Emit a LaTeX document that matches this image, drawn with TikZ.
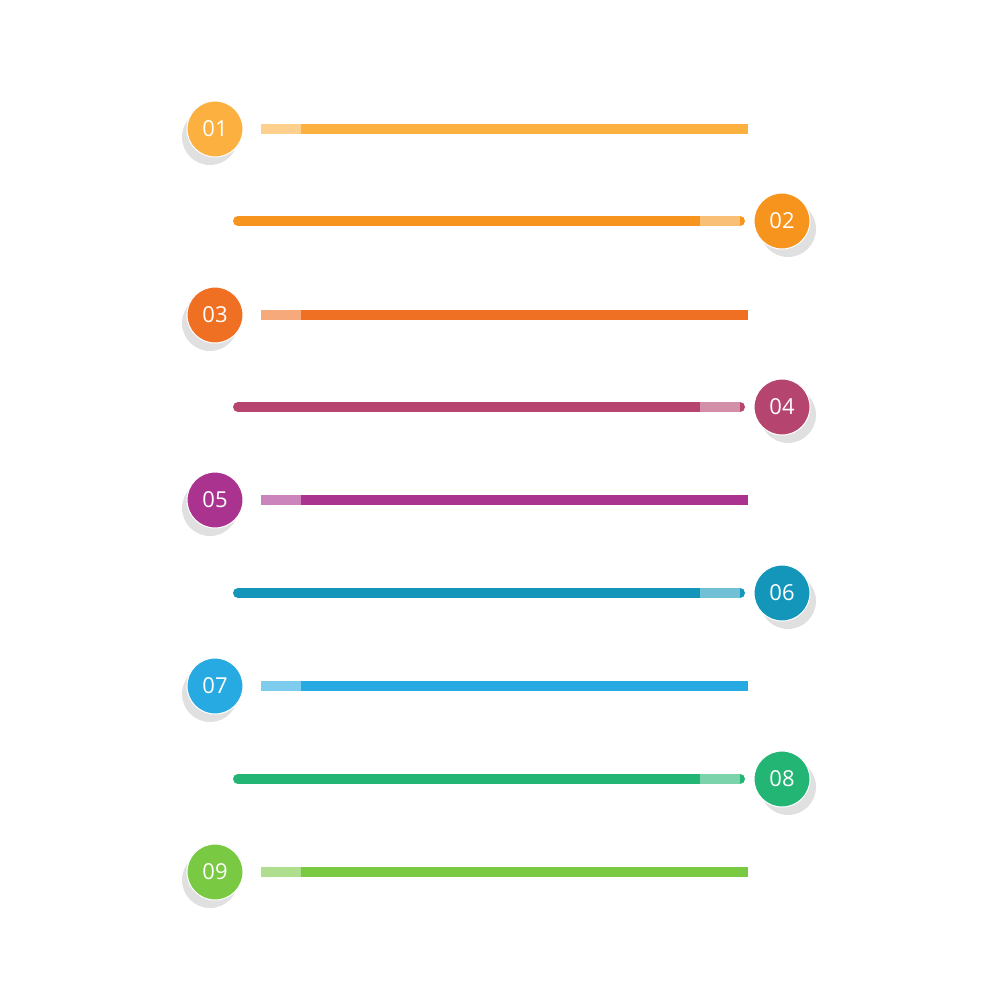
\documentclass[tikz,border=0pt]{standalone}
\usepackage{fontspec}
\setmainfont{Open Sans}
\definecolor{cA}{HTML}{FBB040}
\definecolor{cB}{HTML}{F7941D}
\definecolor{cC}{HTML}{F07023}
\definecolor{cD}{HTML}{B5446E}
\definecolor{cE}{HTML}{A9338F}
\definecolor{cF}{HTML}{1496BB}
\definecolor{cG}{HTML}{27AAE1}
\definecolor{cH}{HTML}{22B573}
\definecolor{cI}{HTML}{7AC943}
\tikzset{
  numdot/.style={circle,draw=white,line width=1pt,minimum size=56pt,inner sep=0pt,text=white,font=\fontsize{22}{22}\selectfont},
  dotshadow/.style={fill=black,opacity=0.12},
  bar/.style={line width=10pt,line cap=round}
}
\begin{document}
\begin{tikzpicture}[x=1pt,y=1pt,yscale=-1,xscale=1]
\useasboundingbox (0,0) rectangle (1000,1000);

%odd rows, dot at the left
\foreach \n/\c/\y in {01/cA/129,03/cC/315,05/cE/500,07/cG/686,09/cI/872}{
  \fill[dotshadow] (210,\y+8) circle (28);
  \coordinate (s\n) at (261,\y);
  \coordinate (e\n) at (748,\y);
  \draw[bar,\c,line cap=butt] (s\n) -- (e\n);
  \draw[\c!60!white,line width=10pt] (s\n) -- ++(40,0);
  \node[numdot,fill=\c] (d\n) at (215,\y) {\n};
}

%even rows, dot at the right
\foreach \n/\c/\y in {02/cB/221,04/cD/407,06/cF/593,08/cH/779}{
  \fill[dotshadow] (788,\y+8) circle (28);
  \coordinate (s\n) at (238,\y);
  \coordinate (e\n) at (740,\y);
  \draw[bar,\c] (s\n) -- (e\n);
  \draw[\c!60!white,line width=10pt] (e\n) -- ++(-40,0);
  \node[numdot,fill=\c] (d\n) at (782,\y) {\n};
}

\end{tikzpicture}
\end{document}
